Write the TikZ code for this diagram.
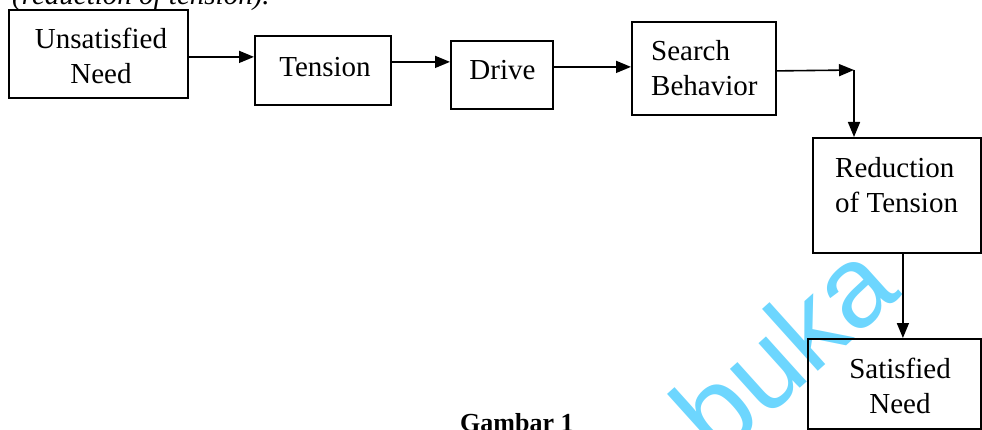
\documentclass[tikz,border=0pt]{standalone}
\usepackage{fontspec}
\setmainfont{Liberation Serif}
\newfontfamily\wmfont{Liberation Sans}
\usetikzlibrary{arrows.meta}
\definecolor{wmcyan}{RGB}{109,214,254}
\begin{document}
\begin{tikzpicture}[x=1pt,y=-1pt,
  box/.style={draw,line width=1.8pt,inner sep=0pt,anchor=north west},
  lbl/.style={inner sep=0pt,font=\fontsize{29}{35}\selectfont},
  arr/.style={line width=1.6pt,-{Triangle[length=15pt,width=12pt]}}]
\useasboundingbox (0,0) rectangle (982,430);
\clip (0,0) rectangle (982,430);
% watermark
\node[font=\wmfont\fontsize{115}{115}\selectfont,text=wmcyan,rotate=42,inner sep=0pt] (wm) at (783,348) {buka};
% caption fragments
\node[lbl,anchor=base west,font=\itshape\fontsize{29}{35}\selectfont] (cap) at (12,5) {(reduction of tension).};
\node[lbl,anchor=base west,font=\bfseries\fontsize{26}{30}\selectfont] (gb) at (460,431) {Gambar 1};
% boxes
\node[box,minimum width=179pt,minimum height=88pt] (un) at (8,9) {};
\node[box,minimum width=136pt,minimum height=69pt] (ten) at (254,35) {};
\node[box,minimum width=102pt,minimum height=68pt] (dr) at (450,40) {};
\node[box,minimum width=144pt,minimum height=93pt] (sb) at (631,21) {};
\node[box,minimum width=168pt,minimum height=115pt] (red) at (812,137) {};
\node[box,minimum width=173pt,minimum height=90pt] (sat) at (807,338) {};
% labels
\node[lbl,align=center] (un-t) at (101,55.5) {Unsatisfied\\Need};
\node[lbl,anchor=base] (ten-t) at (325,77) {Tension};
\node[lbl,anchor=base] (dr-t) at (502.5,80) {Drive};
\node[lbl,align=left,anchor=west] (sb-t) at (651,68.5) {Search\\Behavior};
\node[lbl,align=left,anchor=west] (red-t) at (835,185.5) {Reduction\\of Tension};
\node[lbl,align=center] (sat-t) at (900,385.5) {Satisfied\\Need};
% connectors
\coordinate (c1) at (854,70);
\draw[arr] ([yshift=-3pt]un.east) -- ([yshift=-3pt]un.east -| ten.west);
\draw[arr] ([yshift=8.5pt]ten.east) -- ([yshift=8.5pt]ten.east -| dr.west);
\draw[arr] ([yshift=8pt]dr.east) -- ([yshift=8pt]dr.east -| sb.west);
\draw[arr] ([yshift=-2.5pt]sb.east) -- (c1);
\draw[arr] (c1) -- (c1 |- red.north);
\draw[arr] ([xshift=6pt]red.south) -- ([xshift=6pt]red.south |- sat.north);
\end{tikzpicture}
\end{document}
